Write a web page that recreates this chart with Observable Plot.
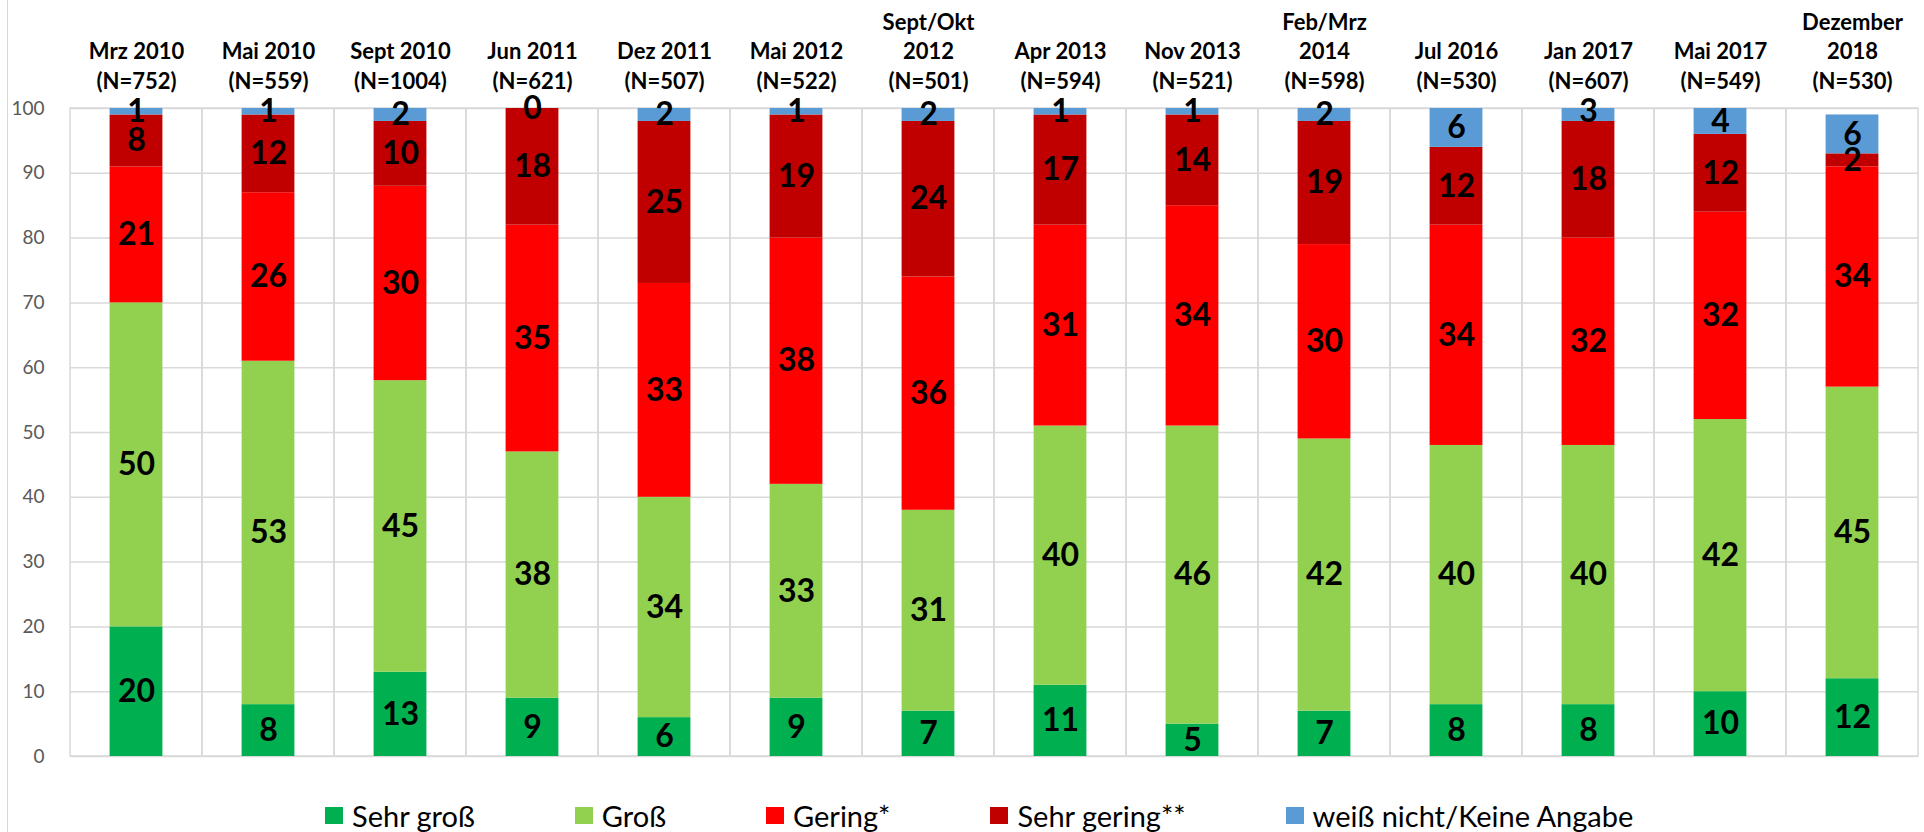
<!DOCTYPE html>
<html>
<head>
<meta charset="utf-8">
<script src="https://cdn.jsdelivr.net/npm/d3@7"></script>
<script src="https://cdn.jsdelivr.net/npm/@observablehq/plot@0.6"></script>
<style>
  html, body { margin: 0; padding: 0; background: #fff; }
  body { width: 1924px; height: 832px; position: relative; overflow: hidden; font-family: Lato, "Open Sans", sans-serif; }
  #chart svg { display: block; }
  #frame { position: absolute; left: 7px; top: 0; width: 1px; height: 832px; background: #d9d9d9; }
  #legend { display: flex; align-items: center; height: 42px; box-sizing: border-box; padding-top: 8px; padding-left: 325px; gap: 100px; }
  .item { display: flex; align-items: center; gap: 9px; font-size: 29px; color: #000; white-space: nowrap; }
  .sw { width: 18px; height: 17px; flex: none; }
</style>
</head>
<body>
<div id="chart"></div>
<div id="legend"></div>
<div id="frame"></div>
<script>
// Survey waves (first lines) and sample sizes
const periods = ["Mrz 2010", "Mai 2010", "Sept 2010", "Jun 2011", "Dez 2011", "Mai 2012", "Sept/Okt\n2012", "Apr 2013", "Nov 2013", "Feb/Mrz\n2014", "Jul 2016", "Jan 2017", "Mai 2017", "Dezember\n2018"];
const sampleSizes = [752, 559, 1004, 621, 507, 522, 501, 594, 521, 598, 530, 607, 549, 530];

const series = ["Sehr groß", "Groß", "Gering*", "Sehr gering**", "weiß nicht/Keine Angabe"];
const colors = ["#00B050", "#92D050", "#FF0000", "#C00000", "#5B9BD5"];

const sehrGross  = [20, 8, 13, 9, 6, 9, 7, 11, 5, 7, 8, 8, 10, 12];
const gross      = [50, 53, 45, 38, 34, 33, 31, 40, 46, 42, 40, 40, 42, 45];
const gering     = [21, 26, 30, 35, 33, 38, 36, 31, 34, 30, 34, 32, 32, 34];
const sehrGering = [8, 12, 10, 18, 25, 19, 24, 17, 14, 19, 12, 18, 12, 2];
const weissNicht = [1, 1, 2, 0, 2, 1, 2, 1, 1, 2, 6, 3, 4, 6];

const yTicks = [0, 10, 20, 30, 40, 50, 60, 70, 80, 90, 100];

const categories = periods.map((p, i) => `${p}\n(N=${sampleSizes[i]})`);
const seriesValues = [sehrGross, gross, gering, sehrGering, weissNicht];
const rows = [];
categories.forEach((cat, i) => {
  series.forEach((s, j) => rows.push({cat, series: s, value: seriesValues[j][i]}));
});

const FONT = "Lato, 'Open Sans', sans-serif";
const GRID = "#d9d9d9";

const chart = Plot.plot({
  width: 1924,
  height: 790,
  marginLeft: 70,
  marginRight: 6,
  marginTop: 108,
  marginBottom: 34,
  style: {fontFamily: FONT, background: "white", overflow: "visible"},
  x: {domain: categories, padding: 0, axis: null},
  y: {domain: [0, 100], axis: null},
  color: {domain: series, range: colors},
  marks: [
    Plot.gridY(yTicks, {stroke: GRID, strokeOpacity: 1, strokeWidth: 1.5}),
    Plot.barY(categories, {x: d => d, y1: 0, y2: 100, fill: "none", stroke: GRID, strokeWidth: 1.5}),
    Plot.axisY(yTicks, {tickSize: 0, tickPadding: 26, fontSize: 19, color: "#595959", label: null}),
    Plot.barY(rows, {x: "cat", y: "value", fill: "series", insetLeft: 39.6, insetRight: 39.6, clip: true}),
    Plot.text(rows, Plot.stackY({x: "cat", y: "value", z: "series", text: d => String(d.value), fontSize: 32, fontWeight: "bold", fill: "black"})),
    Plot.text(categories, {x: d => d, text: d => d, frameAnchor: "top", lineAnchor: "bottom", dy: -20, lineHeight: 1.32, fontSize: 22, fontWeight: "bold", fill: "black"})
  ]
});
document.getElementById("chart").appendChild(chart);

const legend = d3.select("#legend");
series.forEach((s, i) => {
  const it = legend.append("div").attr("class", "item");
  it.append("div").attr("class", "sw").style("background", colors[i]);
  it.append("span").text(s);
});
</script>
</body>
</html>
